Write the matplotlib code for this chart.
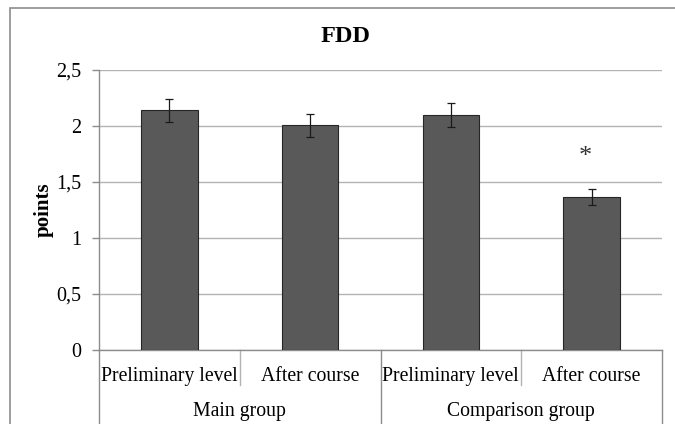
import numpy as np
import matplotlib.pyplot as plt
from matplotlib.patches import Rectangle
import matplotlib.transforms as mtransforms

# --- Data ---
categories = ["Preliminary level", "After course", "Preliminary level", "After course"]
groups = ["Main group", "Comparison group"]
values = [2.14, 2.005, 2.10, 1.365]
errors = [0.105, 0.10, 0.105, 0.07]
star_value = 1.72   # significance mark over the last bar
yticks = [0, 0.5, 1, 1.5, 2, 2.5]
ytick_labels = ["0", "0,5", "1", "1,5", "2", "2,5"]

plt.rcParams['font.family'] = ['Liberation Serif', 'DejaVu Serif']

fig = plt.figure(figsize=(6.75, 4.24), dpi=100)
ax = fig.add_axes([99 / 675, 1 - 350 / 424, (662 - 99) / 675, 280 / 424])

# outer chart frame (cropped at right/bottom like the source)
fig.patches.append(Rectangle((10 / 675, -0.1), 1.2, 1 - 8 / 424 + 0.1,
                             transform=fig.transFigure, fill=False,
                             edgecolor='#8c8c8c', lw=1.2))

x = np.arange(len(values))
ax.bar(x, values, width=0.4, color='#595959', edgecolor='#262626', lw=0.8, zorder=3)
ax.errorbar(x, values, yerr=errors, fmt='none', ecolor='#1a1a1a', elinewidth=0.9,
            capsize=2.6, capthick=0.9, zorder=4)
ax.text(x[-1] - 0.045, star_value, "*", ha='center', va='center', fontsize=19,
        color='#333333')

ax.set_xlim(-0.5, len(values) - 0.5)
ax.set_ylim(0, 2.5)
ax.set_yticks(yticks)
ax.set_yticklabels(ytick_labels, fontsize=14.5)
ax.yaxis.grid(True, color='#b3b3b3', lw=1.0, zorder=0)
ax.set_xticks([])
ax.tick_params(axis='y', length=5, color='#8c8c8c', width=1.0, pad=8)
for side in ['top', 'right']:
    ax.spines[side].set_visible(False)
for side in ['left', 'bottom']:
    ax.spines[side].set_color('#8c8c8c')
    ax.spines[side].set_linewidth(1.0)

ax.set_ylabel("points", fontsize=15, fontweight='bold', labelpad=1.5)
fig.text(345 / 675, 1 - 36 / 424, "FDD", fontsize=17.5, fontweight='bold',
         ha='center', va='center')

# --- multi-level category axis ---
trans = mtransforms.blended_transform_factory(ax.transData, ax.transAxes)
for i, lab in enumerate(categories):
    ax.text(x[i], -0.095, lab, transform=trans, ha='center', va='center', fontsize=14.2)
for b in [0.5, 2.5]:
    ax.plot([b, b], [0, -0.125], transform=trans, color='#b3b3b3', lw=1.0, clip_on=False)
for b in [-0.5, 1.5, 3.5]:
    ax.plot([b, b], [0, -0.35], transform=trans, color='#8c8c8c', lw=1.0, clip_on=False)
for g, lab in enumerate(groups):
    ax.text(2 * g + 0.5, -0.22, lab, transform=trans, ha='center', va='center', fontsize=14.2)

fig.savefig("out.png", dpi=100)
